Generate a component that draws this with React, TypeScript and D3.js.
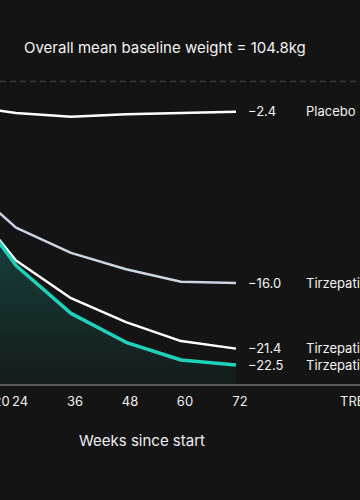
import React from "react";
import * as d3 from "d3";

const weeks = [20, 24, 36, 48, 60, 72];
const placebo = [-2.3, -2.5, -2.8, -2.6, -2.5, -2.4];
const tirz5 = [-10.3, -11.6, -13.6, -14.9, -15.9, -16.0];
const tirz10 = [-12.4, -14.2, -17.2, -19.1, -20.6, -21.2];
const tirz15 = [-12.6, -14.6, -18.4, -20.7, -22.1, -22.5];
const endLabels = ["\u22122.4", "\u221216.0", "\u221221.4", "\u221222.5"];
const xTicks = [20, 24, 36, 48, 60, 72];

const seriesNames = ["Placebo", "Tirzepatide 5mg", "Tirzepatide 10mg", "Tirzepatide 15mg"];
const seriesValues = [placebo, tirz5, tirz10, tirz15];
const seriesColors = ["#ffffff", "#c9d6e3", "#ffffff", "#1fd1bb"];
const seriesWidths = [2.5, 2.5, 2.5, 3.5];

const W = 360;
const H = 500;

export default function App() {
  const x = d3.scaleLinear().domain([24, 72]).range([16, 236]);
  const y = d3.scaleLinear().domain([0, -22.5]).range([81.5, 365]);
  const axisY = 385;

  const line = d3
    .line<number>()
    .x((_, i) => x(weeks[i]))
    .y((d) => y(d));

  const area = d3
    .area<number>()
    .x((_, i) => x(weeks[i]))
    .y0(axisY)
    .y1((d) => y(d));

  const font = "Inter, 'Noto Sans', sans-serif";
  const last = weeks.length - 1;

  return (
    <div style={{ position: "fixed", left: 0, top: 0, width: W, height: H, background: "#141414" }}>
      <svg width={W} height={H} style={{ display: "block" }}>
        <defs>
          <linearGradient id="areaGrad" x1="0" y1="0" x2="0" y2="1">
            <stop offset="0%" stopColor="#1fd1bb" stopOpacity={0.22} />
            <stop offset="100%" stopColor="#1fd1bb" stopOpacity={0.04} />
          </linearGradient>
        </defs>
        <rect width={W} height={H} fill="#141414" />
        <text x={24} y={53} fill="#f2f2f2" fontFamily={font} fontSize={15}>
          Overall mean baseline weight = 104.8kg
        </text>
        <line x1={0} x2={W} y1={y(0)} y2={y(0)} stroke="#3a3a3a" strokeWidth={1.5} strokeDasharray="6,4" />
        <path d={area(tirz15) || ""} fill="url(#areaGrad)" />
        <line x1={0} x2={W} y1={axisY} y2={axisY} stroke="#5a5a5a" strokeWidth={2} />
        {seriesValues.map((vals, si) => (
          <path
            key={si}
            d={line(vals) || ""}
            fill="none"
            stroke={seriesColors[si]}
            strokeWidth={seriesWidths[si]}
            strokeLinejoin="round"
          />
        ))}
        {seriesValues.map((vals, si) => (
          <g key={"l" + si}>
            <text
              x={x(weeks[last]) + 12}
              y={y(vals[last])}
              dy="0.35em"
              fill="#f2f2f2"
              fontFamily={font}
              fontSize={13}
            >
              {endLabels[si]}
            </text>
            <text x={306} y={y(vals[last])} dy="0.35em" fill="#f2f2f2" fontFamily={font} fontSize={13}>
              {seriesNames[si]}
            </text>
          </g>
        ))}
        {xTicks.map((t) => (
          <text
            key={t}
            x={x(t) + 4}
            y={401}
            dy="0.35em"
            textAnchor="middle"
            fill="#eeeeee"
            fontFamily={font}
            fontSize={13}
          >
            {t}
          </text>
        ))}
        <text x={340} y={401} dy="0.35em" fill="#eeeeee" fontFamily={font} fontSize={13}>
          TREATMENT
        </text>
        <text x={142} y={441} dy="0.35em" textAnchor="middle" fill="#eeeeee" fontFamily={font} fontSize={15}>
          Weeks since start
        </text>
      </svg>
    </div>
  );
}
